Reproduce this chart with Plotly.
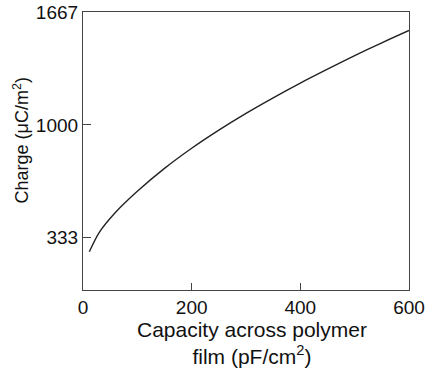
import plotly.graph_objects as go

capacity = [11.6, 30, 60, 100, 150, 200, 250, 300, 350, 400, 450, 500, 550, 600]
charge = [250, 365, 484, 608, 743, 862, 969, 1068, 1160, 1247, 1329, 1409, 1485, 1558]

x_ticks = [0, 200, 400, 600]
y_ticks = [333, 1000, 1667]

x_title = "Capacity across polymer<br>film (pF/cm<sup>2</sup>)"
y_title = "Charge (μC/m<sup>2</sup>)"

family = "Liberation Sans, Arial, sans-serif"
tick_font = dict(family=family, size=19, color="#111")
x_title_font = dict(family=family, size=21, color="#111")
y_title_font = dict(family=family, size=18, color="#111")

fig = go.Figure()
fig.add_trace(go.Scatter(x=capacity, y=charge, mode="lines",
                         line=dict(color="#222", width=1.4, shape="spline", smoothing=0.8),
                         showlegend=False, hoverinfo="skip"))

fig.update_layout(
    width=430, height=369,
    margin=dict(l=83, r=21, t=12, b=79),
    paper_bgcolor="white", plot_bgcolor="white",
    font=tick_font,
    xaxis=dict(range=[0, 600], tickvals=x_ticks, ticks="inside", ticklen=7,
               tickcolor="#444", showgrid=False, zeroline=False, automargin=False,
               showline=True, linecolor="#444", linewidth=1.2, mirror=True,
               ticklabeloverflow="allow", tickfont=tick_font),
    yaxis=dict(range=[24, 1667], tickvals=y_ticks, ticks="inside", ticklen=8,
               tickcolor="#444", showgrid=False, zeroline=False, automargin=False,
               showline=True, linecolor="#444", linewidth=1.2, mirror=True,
               ticklabeloverflow="allow", tickfont=tick_font),
    annotations=[
        dict(text=x_title, xref="paper", yref="paper", x=0.518, y=-0.192,
             xanchor="center", yanchor="middle", showarrow=False, font=x_title_font),
        dict(text=y_title, xref="paper", yref="paper", x=-0.19, y=0.538,
             xanchor="center", yanchor="middle", textangle=-90, showarrow=False,
             font=y_title_font),
    ],
)

# remove the page's default 8px body margin so the figure fills the window exactly
fig.write_html("out.html", config={"displayModeBar": False},
               post_script="document.body.style.margin='0';")
